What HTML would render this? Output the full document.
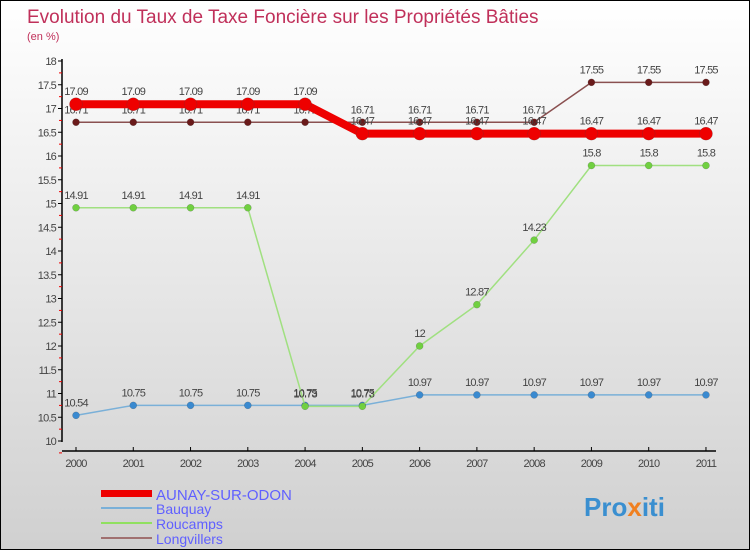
<!DOCTYPE html>
<html><head><meta charset="utf-8"><style>
html,body{margin:0;padding:0}
body{width:750px;height:550px;overflow:hidden;font-family:"Liberation Sans",sans-serif}
#wrap{position:relative;width:748px;height:548px;border:1px solid #000;background:linear-gradient(#ffffff,#d0d0d0)}
</style></head><body>
<div id="wrap">
<svg id="chart" width="748" height="548" xmlns="http://www.w3.org/2000/svg">
<text x="26" y="22" font-size="19" fill="#c0305a">Evolution du Taux de Taxe Foncière sur les Propriétés Bâties</text>
<text x="26" y="39" font-size="11" fill="#c0305a">(en %)</text>
<g id="axes"></g><g id="series"></g>
<g>
<rect x="100" y="489" width="51" height="7" fill="#e00"/>
<text x="155" y="499" font-size="15" fill="#6060ff">AUNAY-SUR-ODON</text>
<line x1="100" y1="507" x2="151" y2="507" stroke="#7ab0d8" stroke-width="2"/>
<text x="155" y="513" font-size="14" fill="#6060ff">Bauquay</text>
<line x1="100" y1="522" x2="151" y2="522" stroke="#90e060" stroke-width="2"/>
<text x="155" y="528" font-size="14" fill="#6060ff">Roucamps</text>
<line x1="100" y1="537" x2="151" y2="537" stroke="#a07070" stroke-width="2"/>
<text x="155" y="543" font-size="14" fill="#6060ff">Longvillers</text>
</g>
<text x="583" y="515" font-size="26" font-weight="bold" fill="#3a8fd0">Pro<tspan fill="#f08020">x</tspan>iti</text>
</svg>
</div>
<script>
const years=[2000,2001,2002,2003,2004,2005,2006,2007,2008,2009,2010,2011];
const aunay=[17.09,17.09,17.09,17.09,17.09,16.47,16.47,16.47,16.47,16.47,16.47,16.47];
const bauquay=[10.54,10.75,10.75,10.75,10.75,10.75,10.97,10.97,10.97,10.97,10.97,10.97];
const roucamps=[14.91,14.91,14.91,14.91,10.73,10.73,12,12.87,14.23,15.8,15.8,15.8];
const longvillers=[16.71,16.71,16.71,16.71,16.71,16.71,16.71,16.71,16.71,17.55,17.55,17.55];
const yTicks=[10,10.5,11,11.5,12,12.5,13,13.5,14,14.5,15,15.5,16,16.5,17,17.5,18];
const NS="http://www.w3.org/2000/svg";
const X=i=>75+i*57.27;
const Y=v=>440-(v-10)*47.5;
function mk(t,a,p){const e=document.createElementNS(NS,t);for(const k in a)e.setAttribute(k,a[k]);p.appendChild(e);return e;}
const ax=document.getElementById('axes');
let l=mk('line',{x1:61,y1:58,x2:61,y2:441,stroke:'#000','stroke-width':1.5},ax);


l=mk('line',{x1:61,y1:450,x2:715,y2:450,stroke:'#000','stroke-width':1.5},ax);


yTicks.forEach(v=>{
 const y=Y(v);
 mk('line',{x1:57,y1:y,x2:61,y2:y,stroke:'#000'},ax);
 mk('line',{x1:58,y1:y+11.9,x2:61,y2:y+11.9,stroke:'#e00'},ax);
 const t=mk('text',{x:55,y:y+4,'font-size':11,fill:'#444','text-anchor':'end','letter-spacing':'-0.8'},ax);
 t.textContent=v;
 
 
});
years.forEach((yr,i)=>{
 mk('line',{x1:X(i),y1:446,x2:X(i),y2:450,stroke:'#000'},ax);
 const t=mk('text',{x:X(i),y:466,'font-size':11,fill:'#444','text-anchor':'middle','letter-spacing':'-0.8'},ax);
 t.textContent=yr;
 
 
});
const sg=document.getElementById('series');
function draw(name,vals,col,dot,w,r){
 const g=mk('g',{},sg);
 
 
 const p=mk('polyline',{points:vals.map((v,i)=>X(i)+','+Y(v)).join(' '),fill:'none',stroke:col,'stroke-width':w},g);
 
 
 vals.forEach((v,i)=>{
  const c=mk('circle',{cx:X(i),cy:Y(v),r:r,fill:dot,stroke:'#4446','stroke-width':0.5},g);
  
  
  const t=mk('text',{x:X(i),y:Y(v)-9,'font-size':11,fill:'#444','text-anchor':'middle','letter-spacing':'-0.8'},g);
  t.textContent=v;
  
  
 });
}
draw('longvillers',longvillers,'#8a5050','#6a1a1a',1.5,3.5);
draw('bauquay',bauquay,'#7ab0d8','#3a8ad0',1.5,3.5);
draw('roucamps',roucamps,'#a0e080','#70d040',1.5,3.5);
draw('aunay',aunay,'#e00','#e00',8,6.5);
</script>
</body></html>
